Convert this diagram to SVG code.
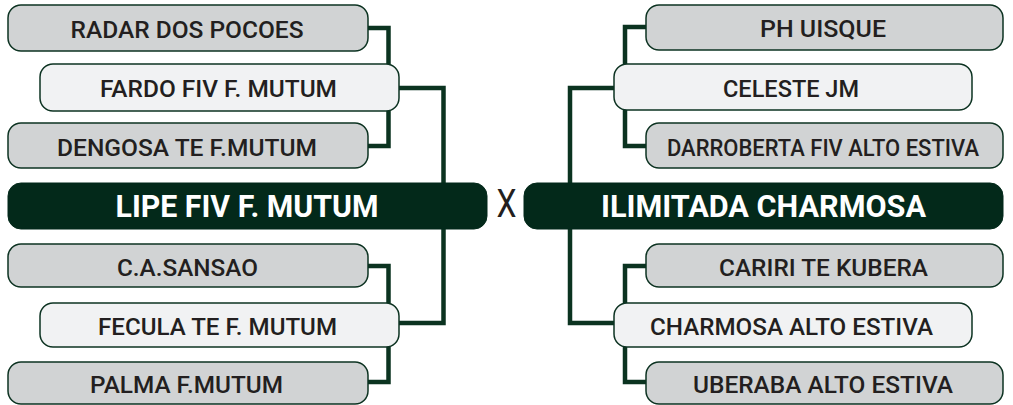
<svg xmlns="http://www.w3.org/2000/svg" width="1013" height="405" viewBox="0 0 1013 405">
<style>
.bg{fill:#ffffff}
.gray{fill:#d1d3d4;stroke:#0d3322;stroke-width:1.5}
.light{fill:#f1f2f3;stroke:#0d3322;stroke-width:1.5}
.dark{fill:#03291a;stroke:#03291a;stroke-width:1}
.t{font-family:Roboto,"Liberation Sans",sans-serif;font-size:23px;font-weight:500;fill:#231f20;text-anchor:middle}
.tb{font-family:Roboto,"Liberation Sans",sans-serif;font-size:32px;font-weight:700;fill:#ffffff;text-anchor:middle}
.x{font-family:Roboto,"Liberation Sans",sans-serif;font-size:38px;font-weight:400;fill:#231f20;text-anchor:middle}
.c{fill:none;stroke:#0b3320;stroke-width:4.5;stroke-linejoin:miter}
</style>
<rect class="bg" x="0" y="0" width="1013" height="405"/>
<g id="connectors">
<polyline class="c" points="368,28 388.5,28 388.5,64"/>
<polyline class="c" points="388.5,111 388.5,146 368,146"/>
<polyline class="c" points="399,88 443.5,88 443.5,183"/>
<polyline class="c" points="368,266 388.5,266 388.5,303"/>
<polyline class="c" points="388.5,347 388.5,382 368,382"/>
<polyline class="c" points="399,323 443.5,323 443.5,229"/>
<polyline class="c" points="646,27 625,27 625,64"/>
<polyline class="c" points="625,110 625,146 646,146"/>
<polyline class="c" points="614,88 570,88 570,183"/>
<polyline class="c" points="646,266 625,266 625,303"/>
<polyline class="c" points="625,347 625,382 646,382"/>
<polyline class="c" points="614,323 570,323 570,229"/>
</g>
<g id="radar"><rect class="gray" x="8" y="5" width="360" height="46" rx="13"/><text class="t" x="187" y="37.5" textLength="233" lengthAdjust="spacingAndGlyphs">RADAR DOS POCOES</text></g>
<g id="fardo"><rect class="light" x="40" y="64" width="359" height="47" rx="13"/><text class="t" x="218.5" y="97" textLength="237" lengthAdjust="spacingAndGlyphs">FARDO FIV F. MUTUM</text></g>
<g id="dengosa"><rect class="gray" x="8" y="123" width="360" height="45" rx="13"/><text class="t" x="187" y="156" textLength="260" lengthAdjust="spacingAndGlyphs">DENGOSA TE F.MUTUM</text></g>
<g id="lipe"><rect class="dark" x="8" y="183" width="479" height="46" rx="13"/><text class="tb" x="247" y="217" textLength="263" lengthAdjust="spacingAndGlyphs">LIPE FIV F. MUTUM</text></g>
<g id="sansao"><rect class="gray" x="8" y="244" width="360" height="43" rx="13"/><text class="t" x="187.5" y="275.5" textLength="141" lengthAdjust="spacingAndGlyphs">C.A.SANSAO</text></g>
<g id="fecula"><rect class="light" x="40" y="303" width="359" height="44" rx="13"/><text class="t" x="217.5" y="334.5" textLength="239" lengthAdjust="spacingAndGlyphs">FECULA TE F. MUTUM</text></g>
<g id="palma"><rect class="gray" x="8" y="362" width="360" height="42" rx="13"/><text class="t" x="186.5" y="393" textLength="193" lengthAdjust="spacingAndGlyphs">PALMA F.MUTUM</text></g>
<g id="versus"><text class="x" x="506.5" y="217" textLength="20" lengthAdjust="spacingAndGlyphs">X</text></g>
<g id="phuisque"><rect class="gray" x="646" y="5" width="357" height="45" rx="13"/><text class="t" x="823" y="37" textLength="126" lengthAdjust="spacingAndGlyphs">PH UISQUE</text></g>
<g id="celeste"><rect class="light" x="614" y="64" width="358" height="46" rx="13"/><text class="t" x="791" y="96.5" textLength="136" lengthAdjust="spacingAndGlyphs">CELESTE JM</text></g>
<g id="darroberta"><rect class="gray" x="646" y="123" width="357" height="45" rx="13"/><text class="t" x="823" y="156" textLength="312" lengthAdjust="spacingAndGlyphs">DARROBERTA FIV ALTO ESTIVA</text></g>
<g id="ilimitada"><rect class="dark" x="524" y="183" width="479" height="46" rx="13"/><text class="tb" x="763.5" y="217" textLength="325" lengthAdjust="spacingAndGlyphs">ILIMITADA CHARMOSA</text></g>
<g id="cariri"><rect class="gray" x="646" y="244" width="357" height="43" rx="13"/><text class="t" x="823.5" y="275.5" textLength="209" lengthAdjust="spacingAndGlyphs">CARIRI TE KUBERA</text></g>
<g id="charmosa"><rect class="light" x="614" y="303" width="358" height="44" rx="13"/><text class="t" x="791.5" y="334.5" textLength="283" lengthAdjust="spacingAndGlyphs">CHARMOSA ALTO ESTIVA</text></g>
<g id="uberaba"><rect class="gray" x="646" y="362" width="357" height="42" rx="13"/><text class="t" x="823" y="393" textLength="260" lengthAdjust="spacingAndGlyphs">UBERABA ALTO ESTIVA</text></g>
</svg>
